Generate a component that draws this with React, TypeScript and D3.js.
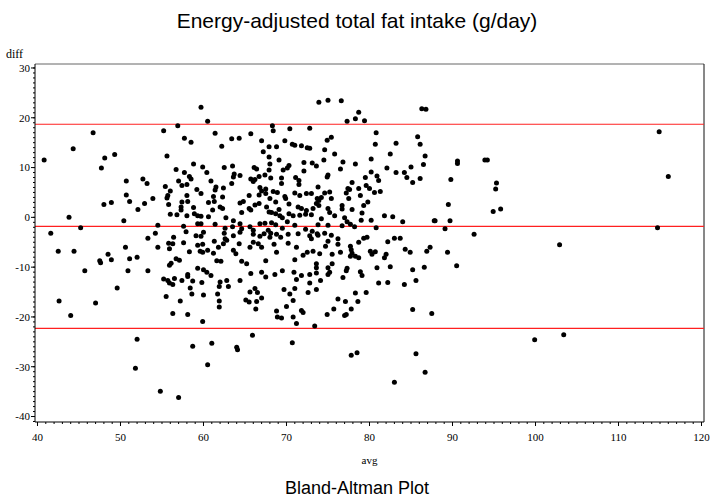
import React from 'react';
import * as d3 from 'd3';

const width = 710;
const height = 504;
const frame = {left: 35, right: 704, top: 64, bottom: 422};

const title = 'Energy-adjusted total fat intake (g/day)';
const footnote = 'Bland-Altman Plot';
const xLabel = 'avg';
const yLabel = 'diff';

const xTicks = [40, 50, 60, 70, 80, 90, 100, 110, 120];
const yTicks = [-40, -30, -20, -10, 0, 10, 20, 30];
// upper limit of agreement, mean difference, lower limit
const limits = [18.7, -1.8, -22.3];

// [avg, diff]
const points: [number, number][] = [
  [59.7,22.1],[56.9,18.4],[46.7,17.0],[55.2,17.4],[57.7,15.9],[58.5,15.1],[44.3,13.8],[40.8,11.5],[48.1,11.9],[49.3,12.6],
  [47.7,9.9],[55.6,12.3],[58.8,10.7],[59.9,10.1],[56.7,9.6],[57.7,9.0],[58.3,8.2],[58.5,7.7],[57.0,7.3],[50.7,7.3],
  [52.7,7.7],[53.2,6.8],[55.4,6.2],[57.4,6.4],[58.0,6.6],[59.2,5.6],[59.7,4.8],[56.0,5.3],[55.7,4.4],[55.6,3.9],
  [58.0,4.4],[50.7,4.5],[51.1,3.2],[53.9,3.8],[52.9,2.8],[48.9,3.0],[48.0,2.6],[52.1,1.6],[55.8,2.6],[57.4,3.1],
  [57.3,2.1],[57.3,1.5],[58.1,3.2],[58.8,2.0],[56.0,0.6],[56.8,0.5],[58.0,0.3],[58.9,0.7],[59.3,0.3],[59.7,0.2],
  [43.8,0],[50.4,-0.7],[45.2,-2.1],[41.6,-3.2],[54.5,-1.6],[57.6,-1.8],[59.3,-1.3],[59.7,-1.3],[54.2,-3.2],[57.9,-2.9],
  [53.3,-4.2],[56.4,-4.0],[59.1,-3.7],[59.7,-3.8],
  [42.5,-6.8],[44.4,-6.8],[45.7,-10.7],[47.5,-8.7],[47.6,-9.1],[48.5,-7.4],[48.9,-8.5],[50.6,-6.0],[51.1,-8.3],[52.0,-8.0],
  [50.9,-10.7],[53.3,-10.7],[54.5,-6.0],[49.6,-14.2],[42.6,-16.8],[47.0,-17.2],[44.0,-19.7],[52.0,-24.5],[51.8,-30.3],[54.8,-34.9],
  [57.0,-36.2],[58.7,-25.9],[59.9,-20.9],
  [55.8,-5.2],[56.3,-5.3],[55.9,-6.3],[57.6,-5.1],[59.3,-5.6],[58.3,-6.9],[59.6,-6.8],[59.9,-7.0],[56.7,-8.3],[57.1,-8.6],
  [56.1,-9.2],[55.9,-9.6],[59.3,-10.2],[58.1,-11.5],[58.1,-11.9],[55.2,-12.4],[55.7,-12.7],[55.9,-13.2],[56.3,-13.5],[56.5,-12.3],
  [57.4,-12.7],[58.7,-12.8],[59.8,-13.1],[58.4,-14.2],[58.6,-15.4],[55.5,-15.9],[57.2,-16.8],[60.0,-15.6],[56.3,-19.3],[58.1,-19.5],
  [73.9,23.1],[60.5,19.3],[68.3,18.4],[68.4,17.4],[70.4,17.8],[72.8,17.9],[61.4,16.9],[65.7,16.8],[63.4,15.8],[64.3,15.9],
  [67.0,15.4],[69.8,15.4],[70.7,14.7],[71.0,14.5],[71.8,14.4],[72.5,14.0],[72.8,13.9],[62.2,14.3],[67.9,14.2],[68.8,14.2],
  [67.2,13.2],[67.9,12.1],[69.1,11.5],[72.1,11.0],[73.1,10.9],[73.6,10.3],[68.0,10.7],[62.5,10.0],[63.5,10.3],[66.1,10.0],
  [66.4,9.7],[60.4,9.0],[63.7,8.7],[67.9,9.5],[69.6,9.5],[70.1,9.9],[70.3,10.4],[72.1,9.3],[63.6,8.1],[64.4,8.4],
  [67.4,8.5],[65.7,7.7],[66.2,7.6],[66.7,8.2],[68.1,7.9],[69.4,7.9],[71.1,8.0],[71.5,7.4],[60.9,7.3],[63.4,6.8],
  [66.0,7.2],[69.4,6.8],[71.5,6.6],[61.5,6.1],[62.4,5.9],[66.8,6.0],[67.5,5.7],[68.4,5.2],[68.9,5.0],[67.0,5.3],
  [61.4,5.5],[61.2,4.2],[62.3,4.1],[65.5,4.4],[66.7,4.5],[67.5,4.8],[68.0,3.8],[69.8,4.2],[71.0,4.9],[71.6,4.4],
  [72.4,4.8],[73.0,4.8],[73.7,3.8],[60.6,3.0],[61.3,3.2],[64.4,2.9],[64.8,3.2],[66.2,2.5],[66.7,2.8],[67.6,2.1],
  [68.7,3.1],[69.1,1.6],[69.9,3.8],[70.3,2.7],[71.4,2.1],[71.8,1.8],[72.4,1.4],[73.2,1.8],[73.6,2.8],[61.1,1.5],
  [62.0,2.1],[62.3,1.8],[64.6,1.0],[65.5,1.8],[65.7,1.5],[67.9,1.1],[68.2,1.0],[68.7,0.7],[69.2,0.3],[69.5,-0.1],
  [70.3,0.7],[70.8,0.3],[71.6,0.4],[72.3,0.6],[73.0,0.5],[60.6,0.1],[62.7,-0.1],[63.6,-0.7],[64.4,-1.3],[66.8,-1.3],
  [67.4,-1.2],[68.2,-1.1],[68.7,-1.5],[70.1,-0.9],[71.0,-1.6],[61.4,-1.4],[62.6,-2.2],[63.5,-1.9],[64.6,-2.3],[65.6,-1.9],
  [66.0,-2.6],[67.8,-2.6],[69.5,-2.2],[72.3,-2.4],[73.1,-2.8],[60.0,-3.0],[62.5,-3.2],[63.6,-3.7],[67.3,-3.3],[68.8,-3.4],
  [70.2,-3.4],[71.4,-3.3],[73.7,-3.3],[62.6,-4.3],[68.0,-4.0],[69.3,-4.0],[73.0,-4.3],
  [64.4,-3.0],[66.0,-3.4],[66.8,-3.8],[68.1,-3.2],[72.8,-3.7],[73.8,-3.6],[61.3,-4.8],[59.9,-5.4],[60.5,-6.6],[61.2,-7.2],
  [61.6,-8.7],[62.1,-8.8],[62.4,-5.3],[61.8,-6.0],[62.8,-4.6],[63.6,-6.6],[63.9,-7.3],[64.3,-5.3],[64.6,-8.8],[65.2,-9.3],
  [65.6,-6.0],[66.0,-5.0],[66.6,-5.3],[67.0,-6.0],[67.5,-8.7],[68.5,-5.4],[68.8,-7.0],[70.2,-5.2],[71.2,-6.0],[72.0,-7.6],
  [72.5,-7.0],[73.2,-6.8],[73.6,-9.3],[71.0,-8.5],[60.0,-10.5],[60.4,-11.0],[60.9,-11.7],[62.0,-13.0],[62.8,-12.7],[63.0,-13.9],
  [61.9,-13.9],[64.4,-12.7],[65.7,-11.3],[67.0,-11.0],[67.5,-12.0],[68.6,-11.5],[69.5,-10.7],[70.9,-11.0],[71.2,-12.5],[71.8,-11.7],
  [72.8,-11.5],[73.6,-11.2],[72.8,-13.2],[61.7,-15.4],[61.9,-16.8],[61.9,-18.0],[65.6,-15.0],[66.2,-14.3],[66.5,-15.1],[67.0,-16.2],
  [65.1,-16.6],[65.5,-17.0],[66.4,-16.9],[66.3,-18.4],[69.7,-14.5],[70.4,-15.4],[71.0,-14.3],[70.8,-16.7],[70.0,-17.9],[73.6,-14.5],
  [72.6,-15.1],[68.8,-18.8],[68.9,-20.0],[69.4,-20.2],[70.8,-20.0],[71.8,-18.7],[72.0,-19.1],[71.2,-21.3],[73.4,-21.8],[61.0,-25.3],
  [64.0,-26.1],[64.1,-26.6],[65.9,-23.7],[70.7,-25.2],[60.5,-29.6],
  [75.0,23.5],[76.6,23.4],[86.3,21.8],[86.8,21.7],[78.7,21.1],[78.3,19.8],[79.4,19.4],[77.3,19.3],[80.8,17.0],[80.7,14.7],
  [83.2,14.9],[85.8,16.2],[86.1,14.7],[74.9,15.5],[75.4,16.1],[74.6,13.6],[75.8,12.7],[74.5,11.5],[76.8,11.1],[76.5,9.7],
  [78.3,10.7],[80.2,11.7],[82.5,12.7],[86.7,12.3],[86.5,10.6],[85.0,10.1],[82.1,9.9],[80.2,9.1],[80.9,8.3],[81.1,7.4],
  [83.2,9.0],[84.2,9.0],[84.5,8.0],[85.2,7.0],[86.1,7.8],[75.0,8.5],[74.9,8.1],[73.8,6.1],[77.9,7.0],[79.5,8.0],
  [79.6,6.4],[80.0,5.8],[80.6,5.0],[81.3,5.2],[78.7,5.8],[78.9,4.4],[77.4,5.8],[77.6,5.6],[77.2,4.9],[75.2,5.1],
  [74.6,4.9],[74.2,4.0],[73.9,3.4],[73.9,2.4],[75.4,3.8],[76.7,2.4],[76.7,1.7],[77.5,3.8],[77.9,1.6],[79.3,2.4],
  [79.8,3.1],[75.0,1.8],[75.2,1.0],[75.8,0.3],[74.2,-0.3],[77.0,-0.1],[77.3,-0.9],[77.7,-1.4],[79.1,0.9],[79.0,-0.6],
  [80.2,-0.6],[81.8,0.3],[82.8,0.1],[84.0,-0.9],[73.8,-1.5],[75.0,-1.6],[76.7,-1.7],[78.2,-1.9],[80.8,-2.1],[87.8,-0.7],
  [74.6,-3.2],[75.4,-3.6],[76.2,-4.3],[79.3,-4.2],[79.7,-4.0],[83.0,-4.2],[83.7,-4.2],
  [75.0,-4.8],[74.7,-5.8],[76.2,-5.4],[74.0,-7.3],[75.5,-7.4],[76.5,-7.0],[77.7,-5.8],[77.8,-6.5],[77.9,-7.2],[77.7,-7.8],
  [78.3,-7.8],[78.7,-8.1],[78.7,-5.0],[80.1,-6.8],[80.3,-7.4],[80.7,-6.9],[81.8,-8.1],[82.0,-7.4],[82.2,-4.9],[84.3,-6.4],
  [84.9,-7.0],[86.9,-6.8],[87.3,-6.0],[86.6,-10.0],[85.2,-10.5],[85.6,-12.7],[84.2,-13.5],[82.5,-9.9],[80.9,-10.1],[82.2,-13.1],
  [81.1,-13.2],[78.9,-10.9],[79.1,-11.7],[77.3,-10.2],[77.2,-10.7],[76.8,-12.1],[75.5,-9.3],[75.0,-10.1],[75.2,-11.0],[75.0,-11.5],
  [73.6,-10.1],[74.1,-12.7],[78.3,-15.2],[79.6,-15.1],[76.2,-16.4],[77.1,-16.9],[78.6,-16.9],[77.8,-18.4],[75.7,-18.4],[74.9,-19.5],
  [77.0,-19.7],[77.2,-19.5],[85.2,-18.5],[87.5,-19.3],[77.8,-27.7],[78.5,-27.2],[85.6,-27.4],[86.7,-31.1],[83.0,-33.1],
  [90.6,11.3],[90.6,10.8],[93.9,11.5],[94.2,11.5],[89.8,7.6],[95.3,6.9],[95.2,5.7],[89.5,2.6],[94.9,1.2],[95.8,1.7],
  [87.9,-0.7],[89.7,-0.7],[89.1,-2.3],[92.6,-3.4],[114.9,17.2],[116.0,8.2],[114.7,-2.1],[89.4,-7.0],[90.5,-9.7],[102.9,-5.5],
  [99.9,-24.6],[103.4,-23.6],
];

const xScale = d3.scaleLinear().domain([39.7, 120.3]).range([frame.left, frame.right]);
const yScale = d3.scaleLinear().domain([-41.1, 30.8]).range([frame.bottom, frame.top]);

const xMinor = d3.range(40, 121);
const yMinor = d3.range(-41, 31);

const serif = '"Liberation Serif", "DejaVu Serif", serif';
const sans = '"Liberation Sans", Arial, sans-serif';

export default function App() {
  return (
    <svg width={width} height={height} style={{position: 'absolute', left: 0, top: 0, background: '#fff'}}>
      <rect x={0} y={0} width={width} height={height} fill='#fff' />
      <text x={357} y={28} textAnchor='middle' fontFamily={sans} fontSize={21}>{title}</text>

      {/* frame */}
      <line x1={frame.left} x2={frame.right} y1={frame.top} y2={frame.top} stroke='#666' strokeWidth={1} />
      <line x1={frame.right} x2={frame.right} y1={frame.top} y2={frame.bottom} stroke='#111' strokeWidth={1} />

      {limits.map((v, i) => (
        <line key={i} x1={frame.left} x2={frame.right} y1={yScale(v)} y2={yScale(v)} stroke='#ff2020' strokeWidth={1.2} />
      ))}

      {points.map(([a, d], i) => (
        <circle key={i} cx={xScale(a)} cy={yScale(d)} r={2.5} fill='#000' />
      ))}

      {/* y axis */}
      <line x1={frame.left} x2={frame.left} y1={frame.top} y2={frame.bottom} stroke='#000' />
      {yMinor.map(v => (
        <line key={v} x1={frame.left - 2} x2={frame.left} y1={yScale(v)} y2={yScale(v)} stroke='#000' />
      ))}
      {yTicks.map(v => (
        <g key={v}>
          <line x1={frame.left - 4} x2={frame.left} y1={yScale(v)} y2={yScale(v)} stroke='#000' />
          <text x={frame.left - 5} y={yScale(v)} dy='0.35em' textAnchor='end' fontFamily={serif} fontSize={11}>{v}</text>
        </g>
      ))}
      <text x={6} y={58} fontFamily={serif} fontSize={12}>{yLabel}</text>

      {/* x axis */}
      <line x1={frame.left} x2={frame.right} y1={frame.bottom} y2={frame.bottom} stroke='#000' />
      {xMinor.map(v => (
        <line key={v} x1={xScale(v)} x2={xScale(v)} y1={frame.bottom} y2={frame.bottom + 2} stroke='#000' />
      ))}
      {xTicks.map(v => (
        <g key={v}>
          <line x1={xScale(v)} x2={xScale(v)} y1={frame.bottom} y2={frame.bottom + 4} stroke='#000' />
          <text x={xScale(v)} y={441} textAnchor='middle' fontFamily={serif} fontSize={11}>{v}</text>
        </g>
      ))}
      <text x={(frame.left + frame.right) / 2} y={464} textAnchor='middle' fontFamily={serif} fontSize={11}>{xLabel}</text>

      <text x={357} y={494} textAnchor='middle' fontFamily={sans} fontSize={18}>{footnote}</text>
    </svg>
  );
}
